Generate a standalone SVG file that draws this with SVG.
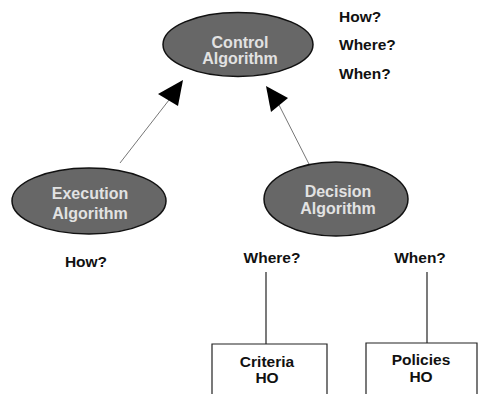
<svg xmlns="http://www.w3.org/2000/svg" width="478" height="394" viewBox="0 0 478 394">
<defs>
<style>
.ell{fill:#676767;stroke:#111;stroke-width:1.5}
.in{font-family:"Liberation Sans",Arial,sans-serif;font-weight:bold;font-size:16px;fill:#e2e2e2;text-anchor:middle}
.lb{font-family:"Liberation Sans",Arial,sans-serif;font-weight:bold;font-size:15.5px;fill:#111;text-anchor:middle}
.box{fill:#fff;stroke:#222;stroke-width:1.2}
.thin{stroke:#777;stroke-width:1;fill:none}
.ln{stroke:#333;stroke-width:1.3;fill:none}
</style>
</defs>
<rect width="478" height="394" fill="#fff"/>
<g id="connectors">
<line class="thin" x1="120" y1="163" x2="169" y2="100"/>
<path d="M183,80 L178,106 L158,94 z" fill="#000"/>
<line class="thin" x1="311" y1="168" x2="279" y2="105"/>
<path d="M266,86 L288,98 L271,112 z" fill="#000"/>
<line class="ln" x1="266" y1="272" x2="266" y2="344"/>
<line class="ln" x1="427" y1="272" x2="427" y2="343"/>
</g>
<g id="control">
<ellipse class="ell" cx="238" cy="44.5" rx="75" ry="32"/>
<text class="in" x="240" y="48">Control</text>
<text class="in" x="240" y="64">Algorithm</text>
</g>
<g id="control-labels">
<text class="lb" x="339" y="22" style="text-anchor:start">How?</text>
<text class="lb" x="339" y="50" style="text-anchor:start">Where?</text>
<text class="lb" x="339" y="79" style="text-anchor:start">When?</text>
</g>
<g id="execution">
<ellipse class="ell" cx="89" cy="201" rx="77" ry="33"/>
<text class="in" x="90" y="199">Execution</text>
<text class="in" x="90" y="219">Algorithm</text>
<text class="lb" x="86" y="267">How?</text>
</g>
<g id="decision">
<ellipse class="ell" cx="336" cy="199" rx="72" ry="37"/>
<text class="in" x="338" y="197">Decision</text>
<text class="in" x="338" y="214">Algorithm</text>
<text class="lb" x="272" y="263">Where?</text>
<text class="lb" x="420" y="263">When?</text>
</g>
<g id="criteria">
<path class="box" d="M212,396 L212,344 L327,344 L327,396"/>
<text class="lb" x="267" y="367">Criteria</text>
<text class="lb" x="267" y="383">HO</text>
</g>
<g id="policies">
<path class="box" d="M366,396 L366,343 L477,343 L477,396"/>
<text class="lb" x="421" y="365">Policies</text>
<text class="lb" x="421" y="382">HO</text>
</g>
</svg>
